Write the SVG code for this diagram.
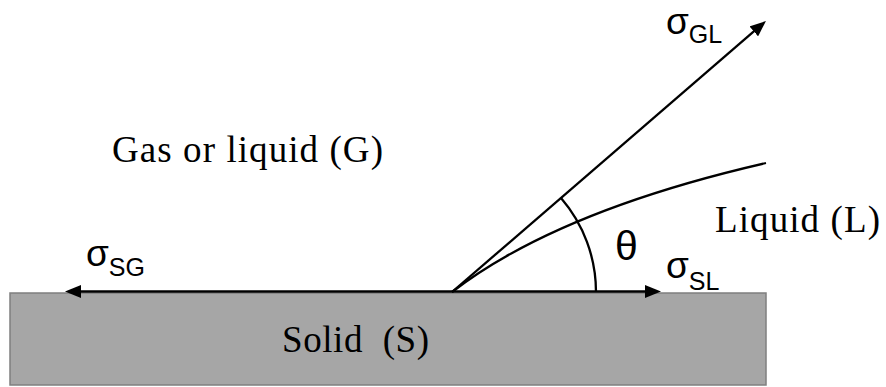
<svg xmlns="http://www.w3.org/2000/svg" width="886" height="387" viewBox="0 0 886 387">
<style>
.serif{font-family:"Liberation Serif","DejaVu Serif",serif;font-size:37px;fill:#000}
.sans{font-family:"Liberation Sans","DejaVu Sans",sans-serif;fill:#000}
.sig{font-size:37px}
.sub{font-size:25px}
.ln{stroke:#000;stroke-width:2.3;fill:none}
</style>
<defs>
<marker id="ah" markerUnits="userSpaceOnUse" markerWidth="16" markerHeight="13" refX="8" refY="6.5" orient="auto">
<path d="M0,0 L16,6.5 L0,13 z" fill="#000"/>
</marker>
</defs>
<rect x="0" y="0" width="886" height="387" fill="#fff"/>
<g id="solid">
<rect x="10" y="293" width="756" height="92" fill="#a6a6a6" stroke="#7f7f7f" stroke-width="1.5"/>
<text class="serif" x="282" y="352" textLength="147" lengthAdjust="spacing" xml:space="preserve">Solid  (S)</text>
</g>
<g id="gas">
<text class="serif" x="112" y="162" textLength="271" lengthAdjust="spacing">Gas or liquid (G)</text>
</g>
<g id="liquid">
<text class="serif" x="715" y="232" textLength="165" lengthAdjust="spacing">Liquid (L)</text>
</g>
<g id="connectors">
<line class="ln" x1="452" y1="291.5" x2="73" y2="291.5" marker-end="url(#ah)"/>
<line class="ln" x1="452" y1="291.5" x2="653" y2="291.5" marker-end="url(#ah)"/>
<line class="ln" x1="452" y1="292" x2="759.9" y2="26.2" marker-end="url(#ah)"/>
<path class="ln" d="M452,292 Q557,211 766,163"/>
<path class="ln" d="M596,292 A144,144 0 0 0 561,198"/>
</g>
<g id="labels">
<text class="sans sig" x="666" y="34">σ<tspan class="sub" dy="9">GL</tspan></text>
<text class="sans sig" x="86" y="266" font-size="39">σ<tspan class="sub" dy="10">SG</tspan></text>
<text class="sans sig" x="666" y="278">σ<tspan class="sub" dy="12">SL</tspan></text>
<text class="sans" x="615" y="260" font-size="41">θ</text>
</g>
</svg>
